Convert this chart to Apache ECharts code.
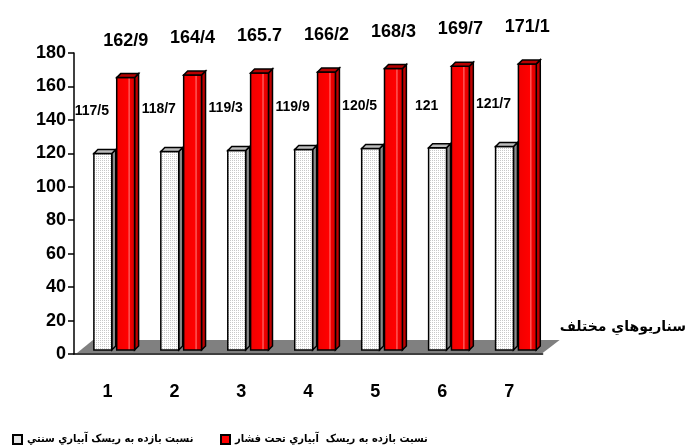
<!DOCTYPE html>
<html>
<head>
<meta charset="utf-8">
<script src="https://cdn.jsdelivr.net/npm/echarts@6/dist/echarts.min.js"></script>
<style>
html, body { margin: 0; padding: 0; background: #fff; }
#main { width: 689px; height: 448px; }
</style>
</head>
<body>
<div id="main"></div>
<script>
// سناريوها
var categories = ['1', '2', '3', '4', '5', '6', '7'];
var traditional = [117.5, 118.7, 119.3, 119.9, 120.5, 121, 121.7];
var pressurized = [162.9, 164.4, 165.7, 166.2, 168.3, 169.7, 171.1];
var traditionalLabels = ['117/5', '118/7', '119/3', '119/9', '120/5', '121', '121/7'];
var pressurizedLabels = ['162/9', '164/4', '165.7', '166/2', '168/3', '169/7', '171/1'];
var yMin = 0, yMax = 180, yStep = 20;

var nameTraditional = 'نسبت بازده به ريسک آبياري سنتي';
var namePressurized = 'نسبت بازده به ريسک  آبياري تحت فشار';
var axisTitle = 'سناريوهاي مختلف';

var myChart = echarts.init(document.getElementById('main'));

// dotted fill for the white bars
function dots(bg, fg) {
    var c = document.createElement('canvas');
    c.width = 4; c.height = 4;
    var ctx = c.getContext('2d');
    ctx.fillStyle = bg; ctx.fillRect(0, 0, 4, 4);
    ctx.fillStyle = fg;
    ctx.fillRect(0, 0, 1, 1); ctx.fillRect(2, 2, 1, 1);
    ctx.fillRect(2, 0, 1, 1); ctx.fillRect(0, 2, 1, 1);
    return { image: c, repeat: 'repeat' };
}

// pseudo 3D bar : front + side + top + label
function bar3d(shift, colors, labels, fontSize, labelDx, labelUp) {
    return function (params, api) {
        var i = api.value(0);
        var top = api.coord([i, api.value(1)]);
        var base = api.coord([i, 0]);
        var band = api.size([1, 0])[0];
        var w = band * 0.267, d = 4, lift = 4;
        var x0 = top[0] + band * shift, x1 = x0 + w;
        var yt = top[1] - lift, yb = base[1] - lift;
        var line = { stroke: '#000', lineWidth: 1.5 };
        return {
            type: 'group',
            children: [
                {
                    type: 'polygon',
                    shape: { points: [[x1, yt], [x1 + d, yt - d], [x1 + d, yb - d], [x1, yb]] },
                    style: Object.assign({ fill: colors.side }, line)
                },
                {
                    type: 'rect',
                    shape: { x: x0, y: yt, width: w, height: yb - yt },
                    style: Object.assign({ fill: colors.front }, line)
                },
                {
                    type: 'polygon',
                    shape: { points: [[x0, yt], [x0 + d, yt - d], [x1 + d, yt - d], [x1, yt]] },
                    style: Object.assign({ fill: colors.top }, line)
                },
                {
                    type: 'text',
                    x: (x0 + x1) / 2 + labelDx,
                    y: yt - labelUp,
                    style: {
                        text: labels[params.dataIndex],
                        fontSize: fontSize,
                        fontWeight: 'bold',
                        fontFamily: 'Liberation Sans, Arial, sans-serif',
                        fill: '#000',
                        align: 'center',
                        verticalAlign: 'middle'
                    }
                }
            ]
        };
    };
}

function pairs(values) {
    return values.map(function (v, i) { return [i, v]; });
}

var redFront = new echarts.graphic.LinearGradient(0, 0, 1, 0, [
    { offset: 0, color: '#f00000' },
    { offset: 0.62, color: '#ff0000' },
    { offset: 0.68, color: '#ff7070' },
    { offset: 0.74, color: '#f00000' },
    { offset: 1, color: '#d80000' }
]);

var legendText = {
    fontSize: 11,
    fontWeight: 'bold',
    fontFamily: 'DejaVu Sans Condensed, DejaVu Sans, sans-serif',
    color: '#000'
};

option = {
    backgroundColor: '#fff',
    animation: false,
    grid: {
        left: 74,
        right: 144,
        top: 53,
        bottom: 94
    },
    legend: [
        {
            left: 12,
            top: 434,
            padding: 0,
            itemWidth: 9,
            itemHeight: 9,
            itemGap: 4,
            itemStyle: { borderColor: '#000', borderWidth: 2 },
            textStyle: legendText,
            data: [{ name: nameTraditional, icon: 'rect' }]
        },
        {
            left: 220,
            top: 434,
            padding: 0,
            itemWidth: 9,
            itemHeight: 9,
            itemGap: 4,
            itemStyle: { borderColor: '#000', borderWidth: 2 },
            textStyle: legendText,
            data: [{ name: namePressurized, icon: 'rect' }]
        }
    ],
    xAxis: {
        type: 'category',
        data: categories,
        name: axisTitle,
        nameLocation: 'end',
        nameGap: 17,
        nameTextStyle: {
            fontSize: 14,
            fontWeight: 'bold',
            fontFamily: 'DejaVu Sans, sans-serif',
            color: '#000',
            align: 'left',
            verticalAlign: 'bottom',
            padding: [0, 0, 20, 0]
        },
        axisLine: { lineStyle: { color: '#000', width: 1.5 } },
        axisTick: { length: 6, lineStyle: { color: '#000', width: 1.5 } },
        axisLabel: {
            margin: 29,
            fontSize: 18,
            fontWeight: 'bold',
            fontFamily: 'Liberation Sans, Arial, sans-serif',
            color: '#000'
        }
    },
    yAxis: {
        type: 'value',
        min: yMin,
        max: yMax,
        interval: yStep,
        axisLine: { show: true, lineStyle: { color: '#000', width: 1.5 } },
        axisTick: { show: true, length: 6, lineStyle: { color: '#000', width: 1.5 } },
        splitLine: { show: false },
        axisLabel: {
            margin: 8,
            fontSize: 18,
            fontWeight: 'bold',
            fontFamily: 'Liberation Sans, Arial, sans-serif',
            color: '#000'
        }
    },
    series: [
        {
            // floor
            type: 'custom',
            name: 'floor',
            silent: true,
            data: [[0, 0]],
            encode: { x: 0, y: 1 },
            renderItem: function (params, api) {
                var band = api.size([1, 0])[0];
                var a = api.coord([0, 0]);
                var b = api.coord([categories.length - 1, 0]);
                var left = a[0] - band / 2, right = b[0] + band / 2, y = a[1];
                return {
                    type: 'polygon',
                    shape: { points: [[left + 3, y - 1], [right, y - 1], [right + 17, y - 14], [left + 19, y - 14]] },
                    style: { fill: '#808080' }
                };
            }
        },
        {
            type: 'custom',
            name: nameTraditional,
            data: pairs(traditional),
            encode: { x: 0, y: 1 },
            itemStyle: { color: '#e6e6e6', borderColor: '#000', borderWidth: 2 },
            renderItem: bar3d(-0.203, {
                front: dots('#ffffff', '#c8c8c8'),
                side: '#8a8a8a',
                top: '#bdbdbd'
            }, traditionalLabels, 14, -11, 42)
        },
        {
            type: 'custom',
            name: namePressurized,
            data: pairs(pressurized),
            encode: { x: 0, y: 1 },
            itemStyle: { color: '#ff0000', borderColor: '#000', borderWidth: 2 },
            renderItem: bar3d(0.138, {
                front: redFront,
                side: '#c00000',
                top: '#b80000'
            }, pressurizedLabels, 18, 0, 37)
        }
    ]
};

myChart.setOption(option);
</script>
</body>
</html>
